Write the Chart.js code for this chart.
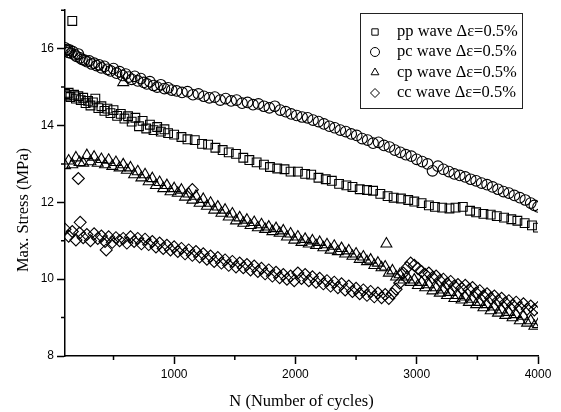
<!DOCTYPE html>
<html>
<head>
<meta charset="utf-8">
<title>Max. Stress vs N</title>
<script src="https://cdn.jsdelivr.net/npm/chart.js"></script>
<style>
  html, body { margin: 0; padding: 0; background: #fff; }
  #wrap { width: 561px; height: 412px; }
</style>
</head>
<body>
<div id="wrap"><canvas id="stress" width="561" height="412"></canvas></div>
<script>
// series labels
const seriesLabels = ['pp wave \u0394\u03b5=0.5%', 'pc wave \u0394\u03b5=0.5%', 'cp wave \u0394\u03b5=0.5%', 'cc wave \u0394\u03b5=0.5%'];

// pp wave (squares)
const ppCycles = [100,115,130,145,160,175,190,210,230,250,270,290,310,330,350,375,400,425,450,475,500,530,560,590,620,650,680,710,740,770,800,830,860,890,920,950,
  1000,1060,1110,1170,1230,1280,1340,1400,1450,1510,1570,1620,1680,1740,1790,1850,1910,1960,2020,2080,2130,2190,2250,2300,2360,2420,2470,2530,2590,2640,
  2700,2760,2810,2870,2930,2980,3040,3100,3150,3210,3270,3320,3380,3440,3490,3550,3610,3660,3720,3780,3830,3890,3950,4000];
const ppStress = [14.82,14.78,14.85,14.74,16.72,14.80,14.70,14.76,14.66,14.72,14.58,14.64,14.52,14.60,14.70,14.45,14.50,14.38,14.44,14.32,14.40,14.25,14.30,14.18,14.24,14.10,14.20,13.98,14.12,13.92,14.02,13.88,13.96,13.84,13.90,13.80,
  13.76,13.70,13.64,13.62,13.52,13.50,13.42,13.36,13.30,13.26,13.16,13.10,13.04,12.98,12.92,12.88,12.86,12.80,12.80,12.74,12.72,12.64,12.60,12.56,12.48,12.44,12.40,12.34,12.32,12.30,
  12.22,12.16,12.12,12.10,12.06,12.02,11.98,11.92,11.88,11.86,11.84,11.86,11.88,11.78,11.74,11.70,11.68,11.64,11.60,11.56,11.52,11.46,11.40,11.34];

// pc wave (circles)
const pcCycles = [100,110,120,130,140,150,165,180,195,210,225,240,260,280,300,320,340,360,380,400,425,450,475,500,525,550,575,600,625,650,675,700,725,750,775,800,830,860,890,920,950,980,
  1020,1065,1110,1155,1200,1245,1290,1335,1380,1425,1470,1515,1560,1605,1650,1695,1740,1785,1830,1875,1920,1965,2010,2055,2100,2145,2190,2235,2280,2325,2370,2415,2460,2505,2550,2595,2640,2685,2730,2775,2820,2865,2910,2955,3000,3045,3090,
  3130,3175,3220,3265,3310,3355,3400,3445,3490,3535,3580,3625,3670,3715,3760,3805,3850,3895,3940,3970,4000];
const pcStress = [16.02,15.95,15.98,15.90,15.96,15.88,15.92,15.84,15.80,15.86,15.76,15.72,15.70,15.66,15.68,15.60,15.62,15.56,15.58,15.50,15.54,15.46,15.42,15.48,15.36,15.40,15.30,15.34,15.26,15.20,15.28,15.16,15.22,15.12,15.08,15.14,15.04,15.00,15.06,14.96,14.98,14.92,
  14.90,14.86,14.88,14.80,14.82,14.76,14.72,14.74,14.66,14.70,14.64,14.66,14.58,14.60,14.54,14.56,14.50,14.46,14.50,14.40,14.36,14.30,14.26,14.22,14.20,14.14,14.10,14.04,13.98,13.94,13.88,13.84,13.78,13.74,13.66,13.62,13.54,13.56,13.48,13.44,13.36,13.30,13.24,13.20,13.12,13.06,13.00,
  12.82,12.94,12.86,12.80,12.74,12.70,12.66,12.60,12.56,12.50,12.46,12.40,12.34,12.28,12.24,12.18,12.12,12.06,11.98,11.92,11.88];

// cp and cc waves were sampled at the same cycles
const denseCycles = [100,130,160,190,220,250,280,310,340,370,400,430,460,490,520,550,580,610,640,670,
  700,730,760,790,820,850,880,910,940,970,1000,1030,1060,1090,1120,1150,1180,1210,1240,1270,
  1300,1330,1360,1390,1420,1450,1480,1510,1540,1570,1600,1630,1660,1690,1720,1750,1780,1810,1840,1870,
  1900,1930,1960,1990,2020,2050,2080,2110,2140,2170,2200,2230,2260,2290,2320,2350,2380,2410,2440,2470,
  2500,2530,2560,2590,2620,2650,2680,2710,2740,2770,2800,2830,2860,2890,2920,2950,2980,3010,3040,3070,
  3100,3130,3160,3190,3220,3250,3280,3310,3340,3370,3400,3430,3460,3490,3520,3550,3580,3610,3640,3670,
  3700,3730,3760,3790,3820,3850,3880,3910,3940,3970,4000];

// cp wave (triangles)
const cpStress = [12.96,13.08,12.98,13.16,13.04,13.02,13.22,13.06,13.18,13.02,
  13.12,12.98,13.10,12.94,13.04,12.90,12.98,12.84,12.90,12.72,
  12.80,12.64,12.72,12.54,12.62,12.44,12.52,12.36,12.44,12.28,
  12.36,12.24,12.32,12.14,12.22,12.06,12.16,11.98,12.08,11.90,
  11.98,11.80,11.88,11.72,11.80,11.62,11.70,11.52,11.60,11.46,
  11.54,11.40,11.48,11.34,11.42,11.30,11.36,11.24,11.32,11.20,
  11.26,11.10,11.18,11.02,11.10,10.96,11.04,10.92,11.00,10.88,
  10.96,10.82,10.90,10.76,10.86,10.72,10.80,10.66,10.74,10.60,
  10.66,10.52,10.58,10.46,10.50,10.36,10.42,10.30,10.32,10.16,
  10.22,10.06,10.12,9.98,10.06,9.92,9.98,9.84,9.92,9.78,
  9.86,9.70,9.78,9.64,9.72,9.58,9.66,9.50,9.58,9.46,
  9.54,9.40,9.48,9.34,9.40,9.26,9.34,9.18,9.28,9.12,
  9.20,9.06,9.14,9.00,9.08,8.92,9.04,8.86,8.92,8.78,
  8.82];
const cpExtraCycles = [580, 2750];
const cpExtraStress = [15.12, 10.92];

// cc wave (diamonds)
const ccStress = [11.30,11.12,11.24,11.02,11.20,11.08,11.16,11.00,11.18,11.06,
  11.12,10.98,11.10,10.96,11.08,11.00,11.06,10.94,11.10,10.98,
  11.06,10.92,11.04,10.90,10.98,10.84,10.94,10.80,10.88,10.76,
  10.84,10.72,10.80,10.66,10.76,10.62,10.72,10.58,10.66,10.52,
  10.60,10.46,10.56,10.42,10.50,10.36,10.46,10.32,10.42,10.30,
  10.38,10.24,10.34,10.20,10.28,10.14,10.24,10.08,10.18,10.04,
  10.12,10.00,10.08,9.96,10.16,10.02,10.12,9.96,10.06,9.92,
  10.02,9.88,9.96,9.82,9.92,9.78,9.88,9.72,9.82,9.68,
  9.76,9.62,9.72,9.58,9.68,9.54,9.64,9.52,9.60,9.50,
  9.62,9.74,9.90,10.16,10.30,10.42,10.36,10.28,10.20,10.12,
  10.16,10.04,10.08,9.96,10.00,9.88,9.94,9.82,9.86,9.76,
  9.84,9.72,9.78,9.64,9.70,9.56,9.62,9.50,9.56,9.44,
  9.50,9.38,9.44,9.32,9.40,9.26,9.36,9.22,9.30,9.20,
  9.26];
const ccExtraCycles = [210, 225, 440, 1150];
const ccExtraStress = [12.62, 11.48, 10.76, 12.33];

// axis ticks
const xMajorTicks = [1000, 2000, 3000, 4000];
const yMajorTicks = [8, 10, 12, 14, 16];
const xMinorTicks = [500, 1500, 2500, 3500];
const yMinorTicks = [9, 11, 13, 15, 17];

function pairs(xs, ys) {
  return xs.map(function (x, i) { return { x: x, y: ys[i] }; });
}

const serif = '"Liberation Serif", "Times New Roman", serif';
const sans = '"Liberation Sans", Arial, sans-serif';
const pointStyles = ['rect', 'circle', 'triangle', 'rectRot'];
const pointSizes = [6.2, 5.3, 6.3, 6];

function series(i, points) {
  return {
    label: seriesLabels[i],
    data: points,
    pointStyle: pointStyles[i],
    pointRadius: pointSizes[i],
    pointHoverRadius: pointSizes[i],
    borderColor: '#000',
    backgroundColor: 'rgba(0,0,0,0)',
    borderWidth: 1.1,
    showLine: false
  };
}

// minor ticks, boxed legend and the y title
const extras = {
  id: 'extras',
  afterDraw: function (chart) {
    const ctx = chart.ctx;
    const xs = chart.scales.x, ys = chart.scales.y;
    ctx.save();
    ctx.strokeStyle = '#000';
    ctx.lineWidth = 1.5;
    ctx.beginPath();
    xMinorTicks.forEach(function (v) {
      const px = xs.getPixelForValue(v);
      ctx.moveTo(px, ys.bottom);
      ctx.lineTo(px, ys.bottom + 4);
    });
    yMinorTicks.forEach(function (v) {
      const py = ys.getPixelForValue(v);
      ctx.moveTo(xs.left, py);
      ctx.lineTo(xs.left - 4, py);
    });
    ctx.stroke();

    // y axis title
    ctx.fillStyle = '#000';
    ctx.font = '16.5px ' + serif;
    ctx.textAlign = 'center';
    ctx.textBaseline = 'middle';
    ctx.translate(24, 210);
    ctx.rotate(-Math.PI / 2);
    ctx.fillText('Max. Stress (MPa)', 0, 0);
    ctx.restore();

    // legend
    ctx.save();
    ctx.strokeStyle = '#222';
    ctx.lineWidth = 1;
    ctx.strokeRect(360.5, 13.5, 162, 95);
    ctx.font = '16.5px ' + serif;
    ctx.textAlign = 'left';
    ctx.textBaseline = 'middle';
    const rows = [32, 52, 72.5, 93];
    seriesLabels.forEach(function (label, i) {
      ctx.strokeStyle = '#000';
      ctx.fillStyle = 'rgba(0,0,0,0)';
      ctx.lineWidth = 1;
      Chart.helpers.drawPoint(ctx, { pointStyle: pointStyles[i], radius: 4.5, borderWidth: 1, rotation: 0 }, 375, rows[i]);
      ctx.fillStyle = '#000';
      ctx.fillText(label, 397, rows[i]);
    });
    ctx.restore();
  }
};

function setTicks(values) {
  return function (scale) {
    scale.ticks = values.map(function (v) { return { value: v }; });
  };
}

new Chart(document.getElementById('stress'), {
  type: 'scatter',
  data: {
    datasets: [
      series(0, pairs(ppCycles, ppStress)),
      series(1, pairs(pcCycles, pcStress)),
      series(2, pairs(denseCycles, cpStress).concat(pairs(cpExtraCycles, cpExtraStress))),
      series(3, pairs(denseCycles, ccStress).concat(pairs(ccExtraCycles, ccExtraStress)))
    ]
  },
  options: {
    responsive: false,
    animation: false,
    devicePixelRatio: 1,
    layout: { padding: { top: 9, right: 23, left: 0, bottom: 0 } },
    plugins: {
      legend: { display: false },
      tooltip: { enabled: false }
    },
    scales: {
      x: {
        type: 'linear',
        min: 100,
        max: 4000,
        bounds: 'data',
        afterBuildTicks: setTicks(xMajorTicks),
        afterFit: function (scale) { scale.height = 56; },
        ticks: {
          maxRotation: 0,
          autoSkip: false,
          padding: 3,
          color: '#000',
          font: { family: sans, size: 12 },
          callback: function (v) { return String(v); }
        },
        grid: { drawOnChartArea: false, tickLength: 8, tickColor: '#000', tickWidth: 1.5 },
        border: { display: true, color: '#000', width: 1.5 },
        title: {
          display: true,
          text: 'N (Number of cycles)',
          color: '#000',
          font: { family: serif, size: 16.5 },
          padding: { top: 4, bottom: 0 }
        }
      },
      y: {
        type: 'linear',
        min: 8,
        max: 17,
        bounds: 'data',
        afterBuildTicks: setTicks(yMajorTicks),
        afterFit: function (scale) { scale.width = 65; },
        ticks: {
          autoSkip: false,
          padding: 3,
          color: '#000',
          font: { family: sans, size: 12 },
          callback: function (v) { return String(v); }
        },
        grid: { drawOnChartArea: false, tickLength: 8, tickColor: '#000', tickWidth: 1.5 },
        border: { display: true, color: '#000', width: 1.5 }
      }
    }
  },
  plugins: [extras]
});
</script>
</body>
</html>
